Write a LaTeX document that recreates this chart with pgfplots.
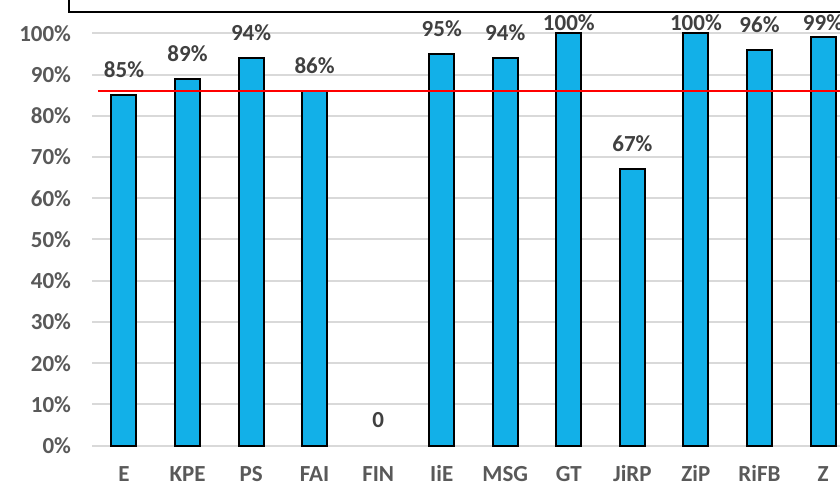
\documentclass[border=0pt]{standalone}
\usepackage{fontspec}
\setmainfont{Carlito}
\usepackage{pgfplots}
\usepackage{pgfplotstable}
\pgfplotsset{compat=1.18}
\definecolor{barblue}{HTML}{12B0E8}
\definecolor{gridgray}{HTML}{D9D9D9}
\definecolor{ticktxt}{HTML}{595959}
\definecolor{labtxt}{HTML}{404040}
\pgfplotstableread{
x y lab sh
0 85 85\% 17.5
1 89 89\% 17.5
2 94 94\% 17.5
3 86 86\% 17.5
4 0 0 18.5
5 95 95\% 17.5
6 94 94\% 17.5
7 100 100\% 3
8 67 67\% 17.5
9 100 100\% 3
10 96 96\% 17.5
11 99 99\% 7
}\datatable
\begin{document}
\begin{tikzpicture}[x=1pt,y=1pt]
\useasboundingbox (0,0) rectangle (840,486);
\begin{axis}[
  at={(92.2pt,40.3pt)}, anchor=south west,
  scale only axis, width=762.6pt, height=412.4pt,
  xmin=-0.5, xmax=11.5, ymin=0, ymax=100,
  axis line style={draw=none},
  major tick length=0pt,
  ytick={0,10,...,100},
  ymajorgrids, grid style={line width=2pt, gridgray},
  xtick={0,...,11},
  xticklabels={E,KPE,PS,FAI,FIN,IiE,MSG,GT,JiRP,ZiP,RiFB,Z},
  /pgf/number format/assume math mode=true,
  yticklabel={\pgfmathprintnumber{\tick}\%},
  ticklabel style={font=\fontsize{23}{27}\selectfont\bfseries, text=ticktxt},
  yticklabel style={anchor=east, inner sep=0pt, xshift=-21pt},
  xticklabel style={anchor=base, inner sep=0pt, yshift=-36pt},
  clip=false,
]
\addplot[ybar, bar width=25pt, fill=barblue, draw=black, line width=2pt,
  y filter/.expression={y==0 ? nan : y}, unbounded coords=discard]
  table[x=x, y=y] {\datatable};
\addplot[red, line width=2.6pt] coordinates {(-0.41,86) (11.45,86)};
\addplot[draw=none, mark=none,
  point meta=explicit symbolic,
  visualization depends on={\thisrow{sh} \as \labshift},
  nodes near coords,
  nodes near coords style={anchor=base, inner sep=0pt, yshift=\labshift pt,
    font=\fontsize{23}{27}\selectfont\bfseries, text=labtxt}]
  table[x=x, y=y, meta=lab] {\datatable};
\end{axis}
\draw[line width=2pt] (69,500) |- (900,474);
\end{tikzpicture}
\end{document}
